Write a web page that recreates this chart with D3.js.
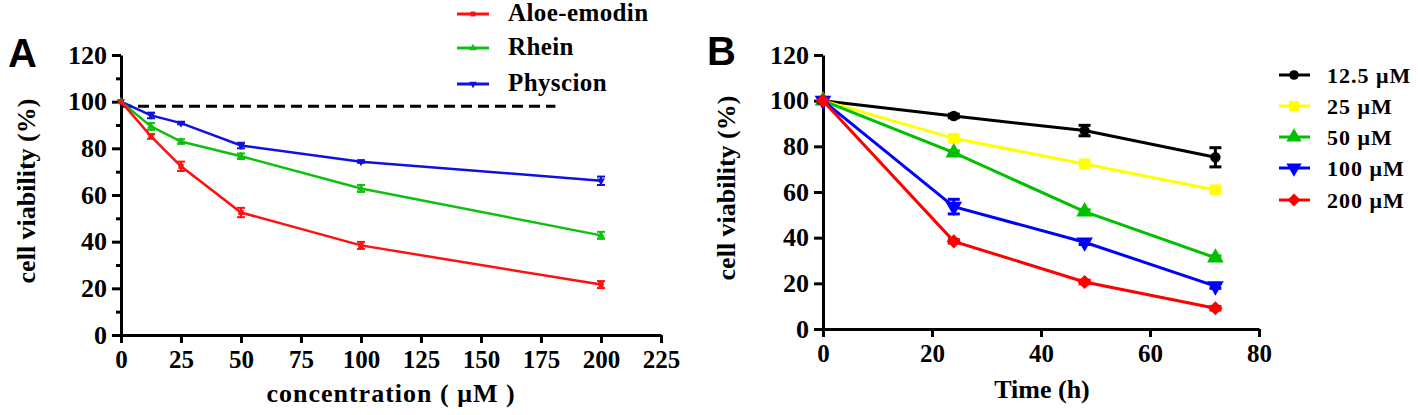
<!DOCTYPE html>
<html lang="en">
  <head>
    <meta charset="utf-8">
    <script src="https://d3js.org/d3.v7.min.js"></script>
    <title>Cell viability</title>
    <style>
      body { margin: 0; background: #fff; }
      svg { display: block; }
      text { font-family: "Liberation Serif", "Times New Roman", serif; font-weight: bold; fill: #000; }
      .panel-letter { font-family: "Liberation Sans", Arial, sans-serif; font-size: 40px; }
      .domain, .tick line { stroke: #000; stroke-width: 3; }
    </style>
  </head>
  <body>
    <div id="chart"></div>
    <script>
      // panel A: concentration series
      const concA = [0, 12.5, 25, 50, 100, 200];
      const aloeEmodin = [100, 85.1, 72.3, 52.5, 38.4, 21.6];
      const aloeEmodinErr = [0, 1, 2, 2, 1.5, 1.5];
      const rhein = [100, 89.4, 82.9, 76.6, 62.8, 42.7];
      const rheinErr = [0, 1.5, 1, 1.2, 1.5, 1.5];
      const physcion = [100, 94.1, 90.8, 81.2, 74.3, 66.1];
      const physcionErr = [0, 1.2, 0.5, 1.2, 0.5, 1.8];
      const controlLine = [0, 181, 98]; // x from, x to, y
      const xTicksA = [0, 25, 50, 75, 100, 125, 150, 175, 200, 225];
      const yTicks = [0, 20, 40, 60, 80, 100, 120];
      const yMinorA = [10, 30, 50, 70, 90, 110];

      // panel B: time series
      const timeB = [0, 24, 48, 72];
      const c12 = [100, 93.3, 86.9, 75.2];
      const c12Err = [0, 0.8, 2.3, 4.2];
      const c25 = [100, 83.5, 72.3, 60.9];
      const c25Err = [0, 0.8, 0.8, 0.8];
      const c50 = [100, 77.2, 51.4, 31.2];
      const c50Err = [0, 0.8, 0.8, 0.8];
      const c100 = [100, 53.6, 38.0, 18.8];
      const c100Err = [1, 3.2, 1, 1];
      const c200 = [100, 38.4, 20.6, 9.1];
      const c200Err = [0, 0.8, 0.8, 0.8];
      const xTicksB = [0, 20, 40, 60, 80];

      const W = 1418, H = 415;
      const svg = d3.select('#chart').append('svg').attr('width', W).attr('height', H);

      function marker(g, shape, size, color) {
        if (shape === 'circle') g.append('path').attr('d', d3.symbol().type(d3.symbolCircle).size(size)());
        if (shape === 'square') g.append('path').attr('d', d3.symbol().type(d3.symbolSquare).size(size)());
        if (shape === 'up') g.append('path').attr('d', d3.symbol().type(d3.symbolTriangle).size(size)());
        if (shape === 'down') g.append('path').attr('d', d3.symbol().type(d3.symbolTriangle).size(size)()).attr('transform', 'rotate(180)');
        if (shape === 'diamond') g.append('path').attr('d', d3.symbol().type(d3.symbolSquare).size(size)()).attr('transform', 'rotate(45)');
        g.selectAll('path').attr('fill', color);
      }

      function drawSeries(g, xs, s, x, y, opt) {
        const pts = xs.map((d, i) => [d, s.v[i], s.e[i]]);
        g.append('path').datum(pts)
          .attr('fill', 'none').attr('stroke', s.color).attr('stroke-width', opt.lw)
          .attr('d', d3.line().x(d => x(d[0])).y(d => y(d[1])));
        const eb = g.append('g').attr('stroke', s.color).attr('stroke-width', opt.ebw);
        pts.filter(d => d[2] > 0).forEach(d => {
          const cx = x(d[0]);
          eb.append('line').attr('x1', cx).attr('x2', cx).attr('y1', y(d[1] - d[2])).attr('y2', y(d[1] + d[2]));
          [d[1] - d[2], d[1] + d[2]].forEach(v => {
            eb.append('line').attr('x1', cx - opt.cap).attr('x2', cx + opt.cap).attr('y1', y(v)).attr('y2', y(v));
          });
        });
        pts.forEach(d => {
          const m = g.append('g').attr('transform', `translate(${x(d[0])},${y(d[1])})`);
          marker(m, s.shape, opt.ms, s.color);
        });
      }

      // ---------- panel A ----------
      const xA = d3.scaleLinear().domain([0, 225]).range([121, 661]);
      const yA = d3.scaleLinear().domain([0, 120]).range([335, 55]);

      const gA = svg.append('g');
      gA.append('g').attr('transform', 'translate(0,335)')
        .call(d3.axisBottom(xA).tickValues(xTicksA).tickSize(8).tickSizeOuter(0).tickPadding(6))
        .call(g => g.selectAll('text').style('font-size', '25px').attr('dy', '0.75em'));
      gA.append('g').attr('transform', 'translate(121,0)')
        .call(d3.axisLeft(yA).tickValues(yMinorA).tickSize(5).tickSizeOuter(0).tickFormat(''))
        .call(g => g.select('.domain').remove());
      gA.append('g').attr('transform', 'translate(121,0)')
        .call(d3.axisLeft(yA).tickValues(yTicks).tickSize(9).tickSizeOuter(0).tickPadding(5))
        .call(g => g.selectAll('text').style('font-size', '26px'));

      gA.append('line')
        .attr('x1', xA(controlLine[0])).attr('x2', xA(controlLine[1]))
        .attr('y1', yA(controlLine[2])).attr('y2', yA(controlLine[2]))
        .attr('stroke', '#000').attr('stroke-width', 3).attr('stroke-dasharray', '11,6');

      const seriesA = [
        { name: 'Physcion', v: physcion, e: physcionErr, color: '#1010e0', shape: 'down' },
        { name: 'Rhein', v: rhein, e: rheinErr, color: '#10c010', shape: 'up' },
        { name: 'Aloe-emodin', v: aloeEmodin, e: aloeEmodinErr, color: '#ff1010', shape: 'square' }
      ];
      seriesA.forEach(s => drawSeries(gA, concA, s, xA, yA, { lw: 2.5, ebw: 2, cap: 4, ms: 28 }));

      // legend A
      const legA = gA.append('g');
      seriesA.slice().reverse().forEach((s, i) => {
        const ly = [14, 48, 84][i];
        legA.append('line').attr('x1', 457).attr('x2', 489).attr('y1', ly).attr('y2', ly)
          .attr('stroke', s.color).attr('stroke-width', 3);
        const m = legA.append('g').attr('transform', `translate(473,${ly})`);
        marker(m, s.shape, 24, s.color);
        legA.append('text').attr('x', 508).attr('y', ly + 7).style('font-size', '25px')
          .style('letter-spacing', '0.4px').text(s.name);
      });

      gA.append('text').attr('class', 'panel-letter').attr('x', 8).attr('y', 67).text('A');
      gA.append('text').attr('text-anchor', 'middle')
        .attr('transform', 'translate(35,191) rotate(-90)').style('font-size', '26px')
        .text('cell viability (%)');
      gA.append('text').attr('text-anchor', 'middle').attr('x', 391).attr('y', 402)
        .style('font-size', '26px').style('letter-spacing', '1px').text('concentration ( \u03bcM )');

      // ---------- panel B ----------
      const xB = d3.scaleLinear().domain([0, 80]).range([823, 1259]);
      const yB = d3.scaleLinear().domain([0, 120]).range([329, 55]);
      const gB = svg.append('g');
      gB.append('g').attr('transform', 'translate(0,329)')
        .call(d3.axisBottom(xB).tickValues(xTicksB).tickSize(8).tickSizeOuter(0).tickPadding(6))
        .call(g => g.selectAll('text').style('font-size', '25px').attr('dy', '0.75em'));
      gB.append('g').attr('transform', 'translate(823,0)')
        .call(d3.axisLeft(yB).tickValues(yTicks).tickSize(9).tickSizeOuter(0).tickPadding(5))
        .call(g => g.selectAll('text').style('font-size', '26px'));

      const seriesB = [
        { name: '12.5 \u03bcM', v: c12, e: c12Err, color: '#000000', shape: 'circle', ms: 85 },
        { name: '25 \u03bcM', v: c25, e: c25Err, color: '#ffff00', shape: 'square', ms: 120 },
        { name: '50 \u03bcM', v: c50, e: c50Err, color: '#00c000', shape: 'up', ms: 120 },
        { name: '100 \u03bcM', v: c100, e: c100Err, color: '#0000ff', shape: 'down', ms: 120 },
        { name: '200 \u03bcM', v: c200, e: c200Err, color: '#ff0000', shape: 'diamond', ms: 100 }
      ];
      seriesB.forEach(s => drawSeries(gB, timeB, s, xB, yB, { lw: 3, ebw: 3, cap: 6, ms: s.ms }));

      const legB = gB.append('g');
      seriesB.forEach((s, i) => {
        const ly = [75, 106, 137, 168, 200][i];
        legB.append('line').attr('x1', 1279).attr('x2', 1310).attr('y1', ly).attr('y2', ly)
          .attr('stroke', s.color).attr('stroke-width', 3);
        const m = legB.append('g').attr('transform', `translate(1294,${ly})`);
        marker(m, s.shape, s.ms * 0.85, s.color);
        legB.append('text').attr('x', 1327).attr('y', ly + 8).style('font-size', '22px')
          .style('letter-spacing', '1px').text(s.name);
      });

      gB.append('text').attr('class', 'panel-letter').attr('x', 707).attr('y', 65).text('B');
      gB.append('text').attr('text-anchor', 'middle')
        .attr('transform', 'translate(735,188) rotate(-90)').style('font-size', '26px')
        .text('cell viability (%)');
      gB.append('text').attr('text-anchor', 'middle').attr('x', 1042).attr('y', 398)
        .style('font-size', '26px').text('Time (h)');
    </script>
  </body>
</html>
